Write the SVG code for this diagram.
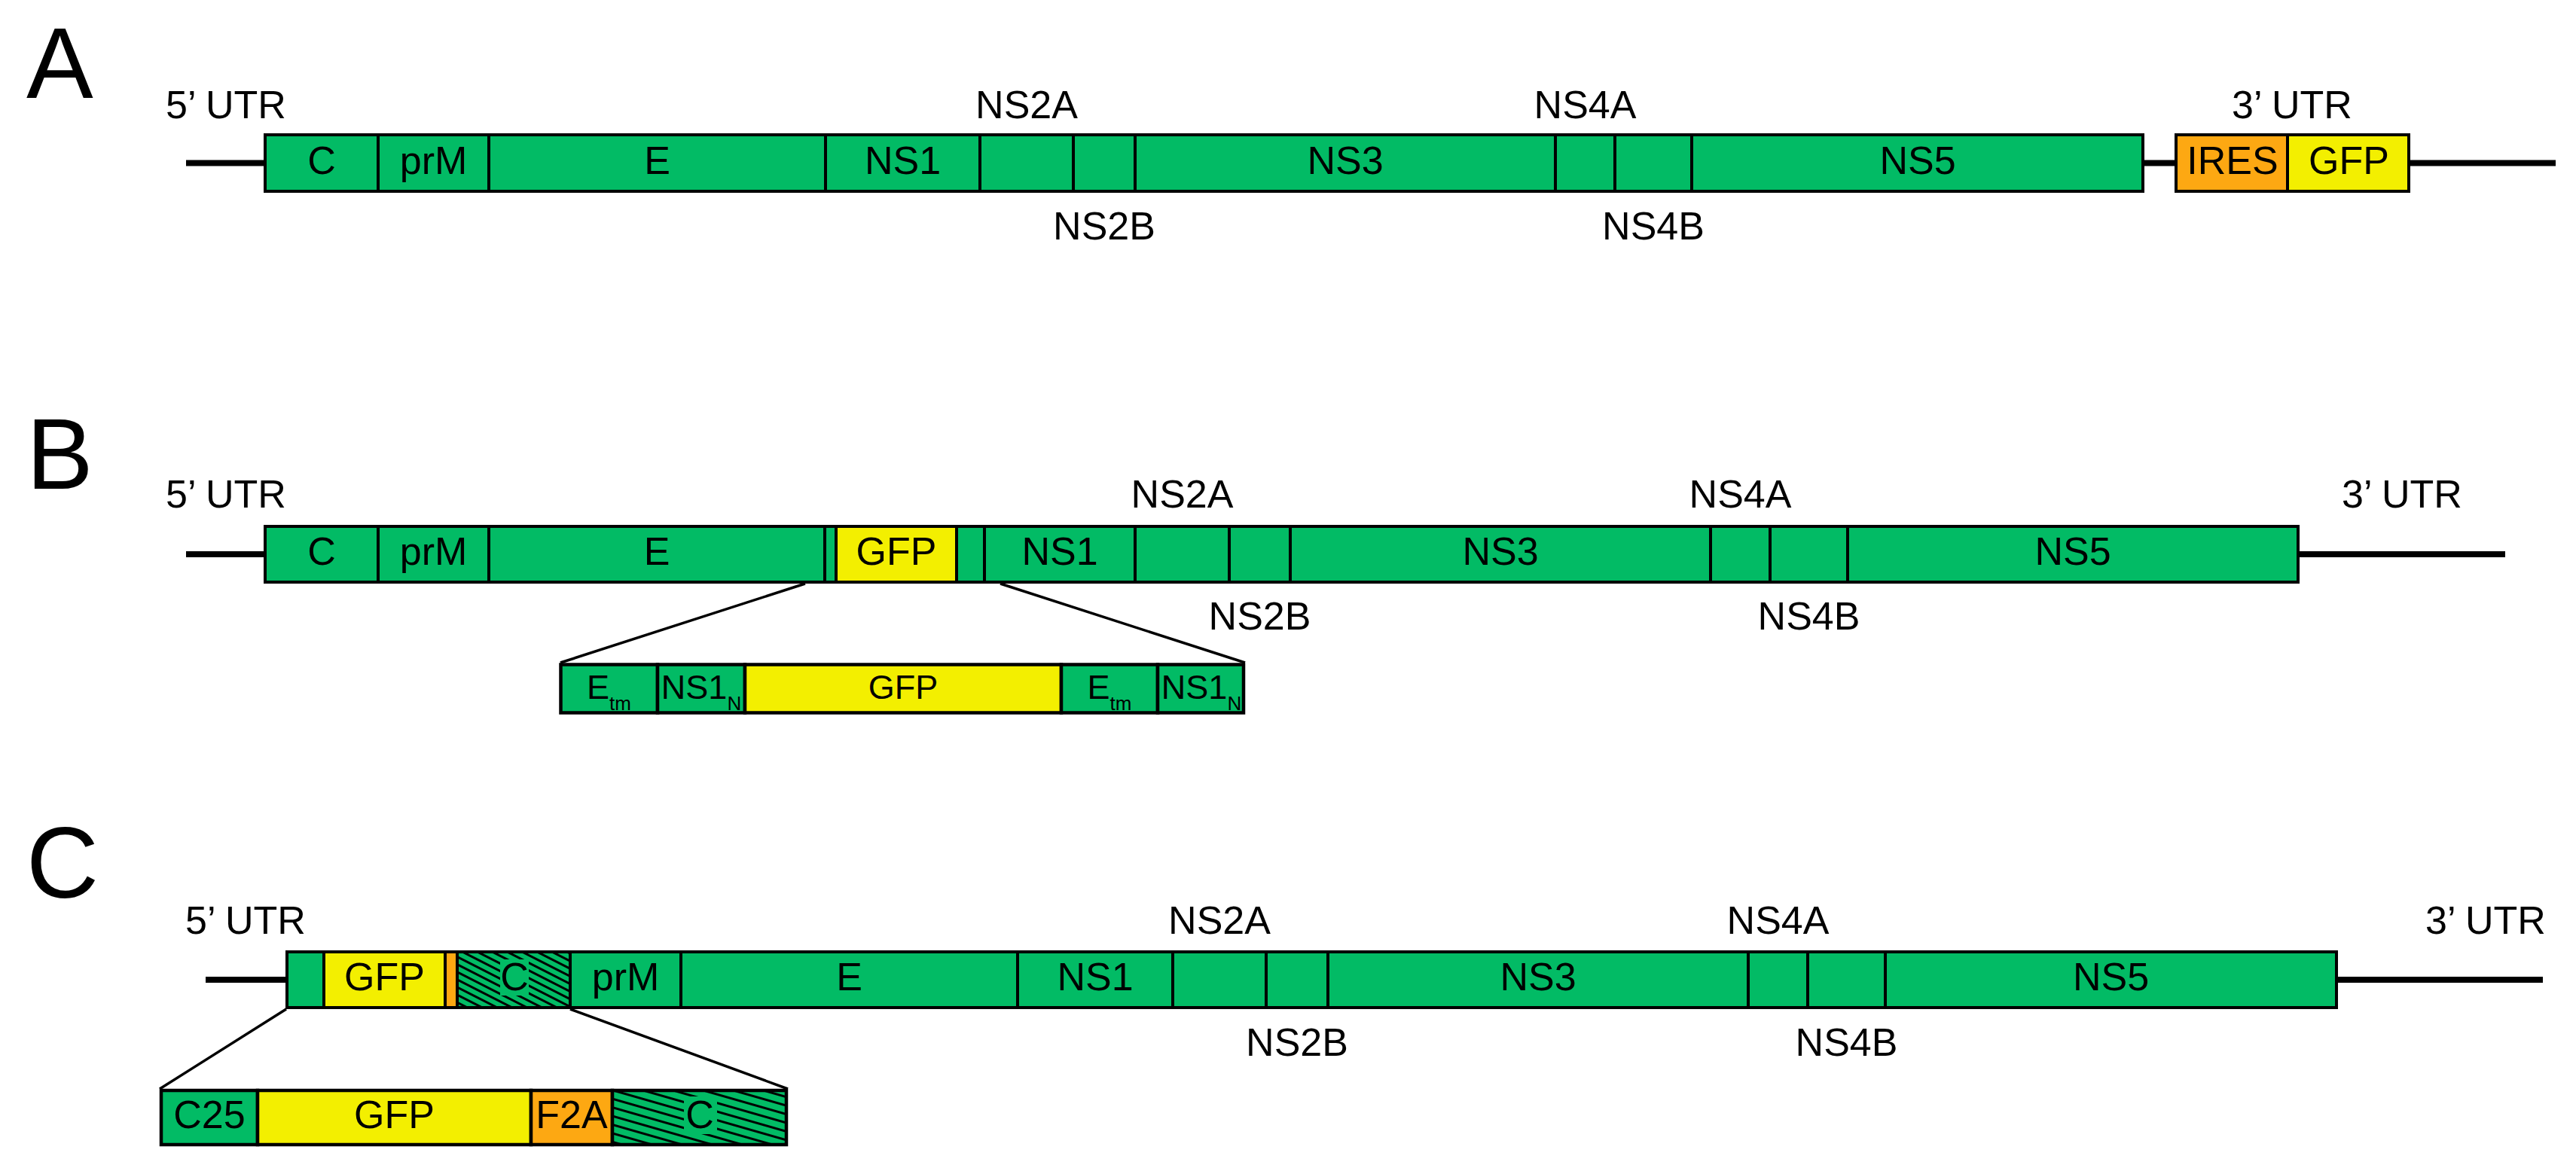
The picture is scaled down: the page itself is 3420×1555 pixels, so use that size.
<svg xmlns="http://www.w3.org/2000/svg" width="3420" height="1555" viewBox="0 0 3420 1555">
<style>
text{font-family:"Liberation Sans",Arial,Helvetica,sans-serif;fill:#000}
.lbl{font-size:52px;text-anchor:middle}
.big{font-size:133px}
.sm{font-size:45px;text-anchor:middle}
.g{fill:#02BB65;stroke:#000;stroke-width:4}
.y{fill:#F3EF00;stroke:#000;stroke-width:4}
.o{fill:#FDA812;stroke:#000;stroke-width:4}
.hb{fill:url(#hatchBar);stroke:#000;stroke-width:4}
.hi{fill:url(#hatchIns);stroke:#000;stroke-width:4.5}
.gi{fill:#02BB65;stroke:#000;stroke-width:4.5}
.yi{fill:#F3EF00;stroke:#000;stroke-width:4.5}
.oi{fill:#FDA812;stroke:#000;stroke-width:4.5}
.utr{stroke:#000;stroke-width:8;fill:none}
.zoom{stroke:#000;stroke-width:3.5;fill:none}
.ko{fill:#02BB65}
</style>
<defs>
<pattern id="hatchBar" patternUnits="userSpaceOnUse" width="40" height="9" patternTransform="rotate(27)">
<rect width="40" height="9" fill="#02BB65"/><rect width="40" height="3" fill="#000"/>
</pattern>
<pattern id="hatchIns" patternUnits="userSpaceOnUse" width="60" height="11" patternTransform="rotate(16)">
<rect width="60" height="11" fill="#02BB65"/><rect width="60" height="3" fill="#000"/>
</pattern>
</defs>
<rect width="3420" height="1555" fill="#fff"/>

<g id="connectors">
<line class="utr" x1="247" y1="216.5" x2="352" y2="216.5"/>
<line class="utr" x1="2845" y1="216.5" x2="2889" y2="216.5"/>
<line class="utr" x1="3198" y1="216.5" x2="3393" y2="216.5"/>
<line class="utr" x1="247" y1="736" x2="352" y2="736"/>
<line class="utr" x1="3051" y1="736" x2="3326" y2="736"/>
<line class="utr" x1="273" y1="1301" x2="381" y2="1301"/>
<line class="utr" x1="3102" y1="1301" x2="3376" y2="1301"/>
<line class="zoom" x1="1069" y1="775" x2="744" y2="880"/>
<line class="zoom" x1="1328" y1="775" x2="1653" y2="880"/>
<line class="zoom" x1="380" y1="1340" x2="212" y2="1446"/>
<line class="zoom" x1="757" y1="1340" x2="1046" y2="1446"/>
</g>

<g id="panelA">
<text class="big" x="35" y="130">A</text>
<text class="lbl" x="300" y="157">5’ UTR</text>
<text class="lbl" x="1363" y="157">NS2A</text>
<text class="lbl" x="2104.5" y="157">NS4A</text>
<text class="lbl" x="3043" y="157">3’ UTR</text>
<text class="lbl" x="1466" y="318">NS2B</text>
<text class="lbl" x="2195" y="318">NS4B</text>
<g id="A-C"><rect class="g" x="352" y="179" width="150" height="75"/><text class="lbl" x="427" y="231">C</text></g>
<g id="A-prM"><rect class="g" x="502" y="179" width="147" height="75"/><text class="lbl" x="575.5" y="231">prM</text></g>
<g id="A-E"><rect class="g" x="649" y="179" width="447" height="75"/><text class="lbl" x="872.5" y="231">E</text></g>
<g id="A-NS1"><rect class="g" x="1096" y="179" width="205" height="75"/><text class="lbl" x="1198.5" y="231">NS1</text></g>
<g id="A-NS2A"><rect class="g" x="1301" y="179" width="124" height="75"/></g>
<g id="A-NS2B"><rect class="g" x="1425" y="179" width="82" height="75"/></g>
<g id="A-NS3"><rect class="g" x="1507" y="179" width="558" height="75"/><text class="lbl" x="1786" y="231">NS3</text></g>
<g id="A-NS4A"><rect class="g" x="2065" y="179" width="79" height="75"/></g>
<g id="A-NS4B"><rect class="g" x="2144" y="179" width="102" height="75"/></g>
<g id="A-NS5"><rect class="g" x="2246" y="179" width="599" height="75"/><text class="lbl" x="2546" y="231">NS5</text></g>
<g id="A-IRES"><rect class="o" x="2889" y="179" width="148" height="75"/><text class="lbl" x="2964" y="231">IRES</text></g>
<g id="A-GFP"><rect class="y" x="3037" y="179" width="161" height="75"/><text class="lbl" x="3118.5" y="231">GFP</text></g>
</g>

<g id="panelB">
<text class="big" x="35" y="649">B</text>
<text class="lbl" x="300" y="674">5’ UTR</text>
<text class="lbl" x="1569.5" y="674">NS2A</text>
<text class="lbl" x="2310.5" y="674">NS4A</text>
<text class="lbl" x="3189" y="674">3’ UTR</text>
<text class="lbl" x="1672.5" y="836">NS2B</text>
<text class="lbl" x="2401.5" y="836">NS4B</text>
<g id="B-C"><rect class="g" x="352" y="699" width="150" height="74"/><text class="lbl" x="427" y="750">C</text></g>
<g id="B-prM"><rect class="g" x="502" y="699" width="147" height="74"/><text class="lbl" x="575.5" y="750">prM</text></g>
<g id="B-E"><rect class="g" x="649" y="699" width="446" height="74"/><text class="lbl" x="872" y="750">E</text></g>
<g id="B-Etm"><rect class="g" x="1095" y="699" width="15" height="74"/></g>
<g id="B-GFP"><rect class="y" x="1110" y="699" width="160" height="74"/><text class="lbl" x="1190" y="750">GFP</text></g>
<g id="B-NS1N"><rect class="g" x="1270" y="699" width="37" height="74"/></g>
<g id="B-NS1"><rect class="g" x="1307" y="699" width="200" height="74"/><text class="lbl" x="1407" y="750">NS1</text></g>
<g id="B-NS2A"><rect class="g" x="1507" y="699" width="125" height="74"/></g>
<g id="B-NS2B"><rect class="g" x="1632" y="699" width="81" height="74"/></g>
<g id="B-NS3"><rect class="g" x="1713" y="699" width="558" height="74"/><text class="lbl" x="1992" y="750">NS3</text></g>
<g id="B-NS4A"><rect class="g" x="2271" y="699" width="79" height="74"/></g>
<g id="B-NS4B"><rect class="g" x="2350" y="699" width="103" height="74"/></g>
<g id="B-NS5"><rect class="g" x="2453" y="699" width="598" height="74"/><text class="lbl" x="2752" y="750">NS5</text></g>
<g id="B-inset">
<g id="Bi-Etm1"><rect class="gi" x="744.5" y="882.5" width="128.5" height="64"/><text class="sm" x="808.5" y="928">E<tspan font-size="26" dy="15">tm</tspan></text></g>
<g id="Bi-NS1N1"><rect class="gi" x="873" y="882.5" width="116" height="64"/><text class="sm" x="931" y="928">NS1<tspan font-size="26" dy="15">N</tspan></text></g>
<g id="Bi-GFP"><rect class="yi" x="989" y="882.5" width="420" height="64"/><text class="sm" x="1199" y="928">GFP</text></g>
<g id="Bi-Etm2"><rect class="gi" x="1409" y="882.5" width="128" height="64"/><text class="sm" x="1473" y="928">E<tspan font-size="26" dy="15">tm</tspan></text></g>
<g id="Bi-NS1N2"><rect class="gi" x="1537" y="882.5" width="114" height="64"/><text class="sm" x="1595" y="928">NS1<tspan font-size="26" dy="15">N</tspan></text></g>
</g>
</g>

<g id="panelC">
<text class="big" x="35" y="1192">C</text>
<text class="lbl" x="326" y="1240">5’ UTR</text>
<text class="lbl" x="1619" y="1240">NS2A</text>
<text class="lbl" x="2360.5" y="1240">NS4A</text>
<text class="lbl" x="3300" y="1240">3’ UTR</text>
<text class="lbl" x="1722" y="1402">NS2B</text>
<text class="lbl" x="2451.5" y="1402">NS4B</text>
<g id="C-C25"><rect class="g" x="381" y="1264" width="49" height="74"/></g>
<g id="C-GFP"><rect class="y" x="430" y="1264" width="161" height="74"/><text class="lbl" x="510.5" y="1315">GFP</text></g>
<g id="C-F2A"><rect class="o" x="591" y="1264" width="16" height="74"/></g>
<g id="C-C"><rect class="hb" x="607" y="1264" width="150" height="74"/><rect class="ko" x="664" y="1274" width="38" height="48"/><text class="lbl" x="683" y="1315">C</text></g>
<g id="C-prM"><rect class="g" x="757" y="1264" width="147" height="74"/><text class="lbl" x="830.5" y="1315">prM</text></g>
<g id="C-E"><rect class="g" x="904" y="1264" width="447" height="74"/><text class="lbl" x="1127.5" y="1315">E</text></g>
<g id="C-NS1"><rect class="g" x="1351" y="1264" width="206" height="74"/><text class="lbl" x="1454" y="1315">NS1</text></g>
<g id="C-NS2A"><rect class="g" x="1557" y="1264" width="124" height="74"/></g>
<g id="C-NS2B"><rect class="g" x="1681" y="1264" width="82" height="74"/></g>
<g id="C-NS3"><rect class="g" x="1763" y="1264" width="558" height="74"/><text class="lbl" x="2042" y="1315">NS3</text></g>
<g id="C-NS4A"><rect class="g" x="2321" y="1264" width="79" height="74"/></g>
<g id="C-NS4B"><rect class="g" x="2400" y="1264" width="103" height="74"/></g>
<g id="C-NS5"><rect class="g" x="2503" y="1264" width="599" height="74"/><text class="lbl" x="2802.5" y="1315">NS5</text></g>
<g id="C-inset">
<g id="Ci-C25"><rect class="gi" x="214" y="1448" width="128" height="72"/><text class="lbl" x="278" y="1498">C25</text></g>
<g id="Ci-GFP"><rect class="yi" x="342" y="1448" width="363" height="72"/><text class="lbl" x="523.5" y="1498">GFP</text></g>
<g id="Ci-F2A"><rect class="oi" x="705" y="1448" width="108" height="72"/><text class="lbl" x="759" y="1498">F2A</text></g>
<g id="Ci-C"><rect class="hi" x="813" y="1448" width="231" height="72"/><rect class="ko" x="908" y="1456" width="44" height="50"/><text class="lbl" x="929" y="1498">C</text></g>
</g>
</g>
</svg>
